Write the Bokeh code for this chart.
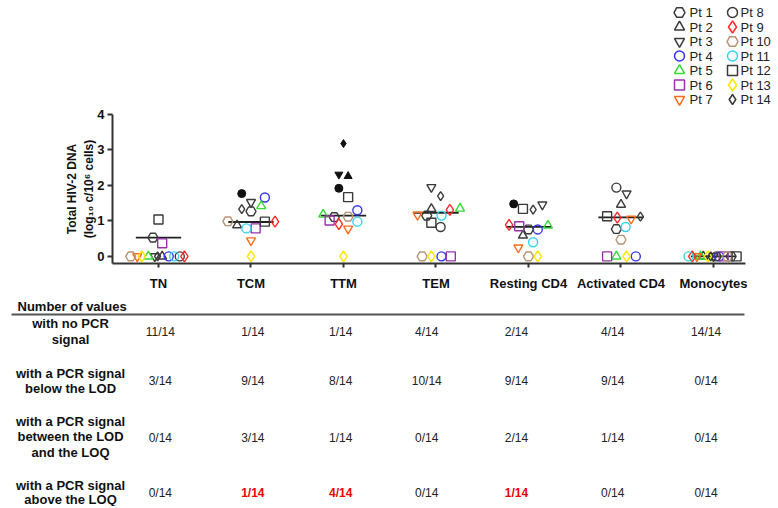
import math
from bokeh.plotting import figure
from bokeh.models import Range1d, FixedTicker
from bokeh.layouts import column
from bokeh.embed import file_html
from bokeh.resources import INLINE
from bokeh.core.properties import value

# ---------------- data ----------------
categories = ["TN", "TCM", "TTM", "TEM", "Resting CD4", "Activated CD4", "Monocytes"]
patients = ["Pt %d" % i for i in range(1, 15)]

TN_pts = [10, 7, 13, 5, 3, 14, 2, 4, 11, 8, 9, 12, 1, 6]
TN_val = [0, 0, 0, 0, 0, 0, 0, 0, 0, 0, 0, 1.04, 0.53, 0.37]
TN_jit = [-0.30, -0.23, -0.18, -0.11, -0.04, -0.01, 0.04, 0.11, 0.17, 0.23, 0.28, 0.0, -0.06, 0.04]
TN_filled = []

TCM_pts = [8, 3, 4, 5, 14, 1, 10, 2, 12, 9, 11, 6, 7, 13]
TCM_val = [1.77, 1.53, 1.66, 1.42, 1.33, 1.27, 0.99, 0.88, 0.98, 0.98, 0.79, 0.79, 0.45, 0]
TCM_jit = [-0.10, 0.0, 0.15, 0.11, -0.10, 0.0, -0.25, -0.15, 0.15, 0.26, -0.05, 0.05, 0.0, 0.0]
TCM_filled = [8]

TTM_pts = [14, 3, 2, 8, 12, 4, 5, 1, 10, 6, 9, 11, 7, 13]
TTM_val = [3.18, 2.31, 2.26, 1.92, 1.67, 1.30, 1.18, 1.11, 1.12, 1.01, 0.91, 0.98, 0.78, 0]
TTM_jit = [0.0, -0.05, 0.05, -0.05, 0.05, 0.15, -0.22, -0.10, 0.05, -0.15, -0.05, 0.15, 0.05, 0.0]
TTM_filled = [14, 3, 2, 8]

TEM_pts = [3, 14, 2, 9, 5, 7, 1, 11, 12, 8, 10, 13, 4, 6]
TEM_val = [1.95, 1.70, 1.34, 1.31, 1.35, 1.17, 1.15, 1.15, 0.95, 0.83, 0, 0, 0, 0]
TEM_jit = [-0.05, 0.05, -0.05, 0.15, 0.26, -0.20, -0.10, 0.06, -0.05, 0.05, -0.15, -0.05, 0.06, 0.16]
TEM_filled = []

RES_pts = [8, 12, 14, 3, 9, 6, 1, 4, 5, 2, 11, 7, 10, 13]
RES_val = [1.48, 1.34, 1.32, 1.46, 0.89, 0.85, 0.76, 0.76, 0.87, 0.59, 0.40, 0.25, 0, 0]
RES_jit = [-0.16, -0.06, 0.05, 0.15, -0.21, -0.10, 0.0, 0.10, 0.21, -0.06, 0.05, -0.11, 0.0, 0.10]
RES_filled = [8]

ACT_pts = [8, 3, 2, 12, 9, 7, 14, 1, 11, 10, 6, 5, 13, 4]
ACT_val = [1.94, 1.77, 1.46, 1.13, 1.09, 1.06, 1.12, 0.77, 0.83, 0.47, 0, 0, 0, 0]
ACT_jit = [-0.05, 0.06, 0.0, -0.15, -0.04, 0.11, 0.21, -0.05, 0.05, 0.0, -0.15, -0.05, 0.06, 0.16]
ACT_filled = []

MON_pts = [11, 9, 7, 5, 2, 13, 14, 3, 8, 4, 6, 10, 1, 12]
MON_val = [0, 0, 0, 0, 0, 0, 0, 0, 0, 0, 0, 0, 0, 0]
MON_jit = [-0.27, -0.23, -0.18, -0.14, -0.11, -0.06, -0.03, 0.0, 0.03, 0.06, 0.11, 0.15, 0.19, 0.25]
MON_filled = []

medians = [0.53, 0.97, 1.15, 1.23, 0.83, 1.10, 0.0]

row_labels = [["with no PCR", "signal"],
              ["with a PCR signal", "below the LOD"],
              ["with a PCR signal", "between the LOD", "and the LOQ"],
              ["with a PCR signal", "above the LOQ"]]
no_pcr = ["11/14", "1/14", "1/14", "4/14", "2/14", "4/14", "14/14"]
below_lod = ["3/14", "9/14", "8/14", "10/14", "9/14", "9/14", "0/14"]
between_lod_loq = ["0/14", "3/14", "1/14", "0/14", "2/14", "1/14", "0/14"]
above_loq = ["0/14", "1/14", "4/14", "0/14", "1/14", "0/14", "0/14"]

cat_data = [(TN_pts, TN_val, TN_jit, TN_filled),
            (TCM_pts, TCM_val, TCM_jit, TCM_filled),
            (TTM_pts, TTM_val, TTM_jit, TTM_filled),
            (TEM_pts, TEM_val, TEM_jit, TEM_filled),
            (RES_pts, RES_val, RES_jit, RES_filled),
            (ACT_pts, ACT_val, ACT_jit, ACT_filled),
            (MON_pts, MON_val, MON_jit, MON_filled)]

# ---------------- styles ----------------
FONT = "Liberation Sans"
DARK = "#3a3a3a"
markers = {1: "hex", 2: "triangle", 3: "inverted_triangle", 4: "circle", 5: "triangle",
           6: "square", 7: "inverted_triangle", 8: "circle", 9: "diamond", 10: "hex",
           11: "circle", 12: "square", 13: "diamond", 14: "diamond"}
colors = {1: DARK, 2: DARK, 3: DARK, 4: "#3333ee", 5: "#33dd33", 6: "#9933aa",
          7: "#ff6a1a", 8: DARK, 9: "#ff2a2a", 10: "#b59475", 11: "#33d4ee",
          12: DARK, 13: "#ffe600", 14: DARK}
msize = {"hex": 10, "triangle": 9, "inverted_triangle": 9, "circle": 9,
         "square": 9, "diamond": 11}

W = 776
LEG_H = 108
MAIN_H = 188
TAB_H = 210

def no_align(fig):
    try:
        fig.frame_align = False
    except Exception:
        pass

# ---------------- legend (drawn as its own small panel) ----------------
lg = figure(width=W, height=LEG_H, x_range=Range1d(0, W), y_range=Range1d(LEG_H, 0),
            output_backend="svg", toolbar_location=None, x_axis_type=None, y_axis_type=None,
            min_border=0)
lg.xgrid.visible = False
lg.ygrid.visible = False
lg.outline_line_color = None
no_align(lg)
leg_col_marker_x = [679, 732]
leg_col_text_x = [689, 740]
leg_row_y0, leg_row_dy = 12, 14.5
for pt in range(1, 15):
    col = 0 if pt <= 7 else 1
    row = (pt - 1) % 7
    yy = leg_row_y0 + leg_row_dy * row
    m = markers[pt]
    s = msize[m] + 1 - (2 if pt == 14 else 0)
    lg.scatter(x=[leg_col_marker_x[col]], y=[yy], marker=m, size=s, line_color=colors[pt],
               fill_color=None, line_width=1.5)
    lg.text(x=[leg_col_text_x[col]], y=[yy], text=[patients[pt - 1]], text_font=value(FONT),
            text_font_size=value("13px"), text_align="left", text_baseline="middle",
            text_color="#222222")

# ---------------- main chart ----------------
x0, x1 = -0.4973, 6.346
p = figure(width=W, height=MAIN_H, x_range=Range1d(x0, x1), y_range=Range1d(-0.2, 4.0),
           output_backend="svg", toolbar_location=None,
           min_border_left=112, min_border_right=W - 745, min_border_top=6, min_border_bottom=33)
p.xgrid.visible = False
p.ygrid.visible = False
p.outline_line_color = None
no_align(p)

for ax in (p.xaxis[0], p.yaxis[0]):
    ax.axis_line_width = 2
    ax.axis_line_color = "#333333"
    ax.major_tick_line_color = "#333333"
    ax.major_tick_line_width = 2
    ax.major_tick_in = 0
    ax.minor_tick_line_color = None
    ax.major_label_text_font = FONT
    ax.major_label_text_font_style = "bold"
    ax.major_label_text_color = "#111111"
    ax.major_label_text_font_size = "13px"

p.xaxis.ticker = FixedTicker(ticks=list(range(len(categories))))
p.xaxis.major_label_overrides = {i: c for i, c in enumerate(categories)}
p.xaxis.major_tick_out = 4
p.xaxis.major_label_standoff = 8
p.yaxis.ticker = FixedTicker(ticks=[0, 1, 2, 3, 4])
p.yaxis.major_tick_out = 5
p.yaxis.major_label_standoff = 3
p.yaxis.axis_label = "Total HIV-2 DNA\n(log\u2081\u2080 c/10\u2076 cells)"
p.yaxis.axis_label_text_font = FONT
p.yaxis.axis_label_text_font_style = "bold"
p.yaxis.axis_label_text_font_size = "12px"
p.yaxis.axis_label_text_color = "#111111"
p.yaxis.axis_label_standoff = -2

# median bars
p.segment(x0=[i - 0.245 for i in range(len(medians))], x1=[i + 0.245 for i in range(len(medians))],
          y0=medians, y1=medians, line_color="#222222", line_width=1.8)

for pt in range(1, 15):
    xs, ys, fx, fy = [], [], [], []
    for ci, (pts, vals, jit, filled) in enumerate(cat_data):
        for k, pp in enumerate(pts):
            if pp != pt:
                continue
            if pt in filled:
                fx.append(ci + jit[k]); fy.append(vals[k])
            else:
                xs.append(ci + jit[k]); ys.append(vals[k])
    m = markers[pt]
    s = msize[m] - (2 if pt == 14 else 0)
    p.scatter(x=xs, y=ys, marker=m, size=s, line_color=colors[pt],
              fill_color=None, line_width=1.4)
    if fx:
        p.scatter(x=fx, y=fy, marker=m, size=s - 1, line_color="#111111",
                  fill_color="#111111", line_width=1)

# ---------------- table ----------------
t = figure(width=W, height=TAB_H, x_range=Range1d(-158 / 92.5, (W - 158) / 92.5),
           y_range=Range1d(LEG_H + MAIN_H + TAB_H, LEG_H + MAIN_H),
           output_backend="svg", toolbar_location=None, x_axis_type=None, y_axis_type=None,
           min_border=0)
t.xgrid.visible = False
t.ygrid.visible = False
t.outline_line_color = None
no_align(t)

label_x = -0.951
col_shift = [0.02, 0.02, -0.03, -0.10, -0.13, -0.09, -0.08]
row_line_y = [[323, 339], [373, 388], [421, 436, 452], [485, 499]]
row_value_y = [331, 380, 437, 492]
rows = [no_pcr, below_lod, between_lod_loq, above_loq]

t.text(x=[-1.524], y=[306], text=["Number of values"], text_font=value(FONT),
       text_font_size=value("13px"), text_font_style="bold", text_align="left",
       text_baseline="middle", text_color="#111111")
t.segment(x0=[-1.589], x1=[6.335], y0=[314], y1=[314], line_color="#555555", line_width=2)

lx, ly, lt = [], [], []
for lines, ys in zip(row_labels, row_line_y):
    for s, yv in zip(lines, ys):
        lx.append(label_x); ly.append(yv); lt.append(s)
t.text(x=lx, y=ly, text=lt, text_font=value(FONT), text_font_size=value("13px"),
       text_font_style="bold", text_align="center", text_baseline="middle", text_color="#111111")

vx, vy, vt, vc, vs = [], [], [], [], []
for r, (vals, yv) in enumerate(zip(rows, row_value_y)):
    for i, v in enumerate(vals):
        vx.append(i + col_shift[i]); vy.append(yv); vt.append(v)
        red = (r == 3 and not v.startswith("0/"))
        vc.append("#ee0000" if red else "#222222")
        vs.append("bold" if red else "normal")
t.text(x=vx, y=vy, text=vt, text_color=vc, text_font_style=vs, text_font=value(FONT),
       text_font_size=value("12px"), text_align="center", text_baseline="middle")

layout = column(lg, p, t, spacing=0)
open("out.html", "w").write(file_html(layout, INLINE))
